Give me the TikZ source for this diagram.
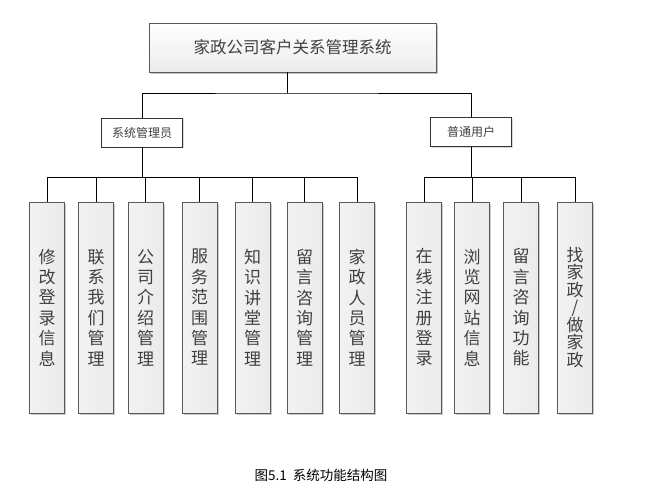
\documentclass[tikz,border=0pt]{standalone}
\usepackage{fontspec}
\newfontfamily\cjk{Noto Sans CJK SC}
\usetikzlibrary{shadows}
\tikzset{
  topbox/.style={draw=gray!70!black, minimum width=287, minimum height=49,
    top color=white, bottom color=gray!15, text=black!75,
    drop shadow={shadow xshift=1.5pt, shadow yshift=-1.5pt, fill=black!40, opacity=.6},
    font=\cjk\fontsize{16.5}{18}\selectfont},
  rolebox/.style={draw=black!80, fill=white, minimum width=81, minimum height=29,
    text=black!75, drop shadow={shadow xshift=1pt, shadow yshift=-1pt, fill=black!30, opacity=.5},
    font=\cjk\fontsize{12}{14}\selectfont},
  leafbox/.style={draw=gray!70!black, minimum width=35, minimum height=211, inner sep=0pt,
    left color=gray!10, middle color=white, right color=gray!16, text=black!75, align=center,
    drop shadow={shadow xshift=1.5pt, shadow yshift=-1.5pt, fill=black!35, opacity=.6},
    font=\cjk\fontsize{17}{20.4}\selectfont},
  link/.style={line width=0.8pt, black}
}
\begin{document}
\begin{tikzpicture}[x=1pt, y=-1pt]
  \useasboundingbox (0,0) rectangle (653,496);
  % top
  \node[topbox] (sys) at (292.5,47.5) {家政公司客户关系管理系统};
  \node[rolebox] (admin) at (142,132.5) {系统管理员};
  \node[rolebox] (user) at (471,132) {普通用户};
  % admin functions
  \node[leafbox] (a1) at (47,307.5) {修\\改\\登\\录\\信\\息};
  \node[leafbox] (a2) at (96,307.5) {联\\系\\我\\们\\管\\理};
  \node[leafbox] (a3) at (145.5,307.5) {公\\司\\介\\绍\\管\\理};
  \node[leafbox] (a4) at (199.5,307.5) {服\\务\\范\\围\\管\\理};
  \node[leafbox] (a5) at (252.5,307.5) {知\\识\\讲\\堂\\管\\理};
  \node[leafbox] (a6) at (304.5,307.5) {留\\言\\咨\\询\\管\\理};
  \node[leafbox] (a7) at (357,307.5) {家\\政\\人\\员\\管\\理};
  % user functions
  \node[leafbox] (u1) at (424,307.5) {在\\线\\注\\册\\登\\录};
  \node[leafbox] (u2) at (472,307.5) {浏\\览\\网\\站\\信\\息};
  \node[leafbox] (u3) at (521,307.5) {留\\言\\咨\\询\\功\\能};
  \node[leafbox, font=\cjk\fontsize{17}{17.5}\selectfont] (u4) at (575,307.5) {找\\家\\政\\/\\做\\家\\政};
  % links
  \coordinate (bus) at (287,93);
  \coordinate (abus) at (142,177);
  \coordinate (ubus) at (471,177);
  \draw[link] (sys.south -| bus) -- (bus);
  \draw[link] (admin.north) |- (bus) -| (user.north);
  \draw[link] (admin.south) -- (abus)
    (abus) -| (a1.north) (abus) -| (a2.north) (abus) -| (a3.north) (abus) -| (a4.north)
    (abus) -| (a5.north) (abus) -| (a6.north) (abus) -| (a7.north);
  \draw[link] (user.south) -- (ubus)
    (ubus) -| (u1.north) (ubus) -| (u2.north) (ubus) -| (u3.north) (ubus) -| (u4.north);
  \node[font=\cjk\fontsize{13.5}{15}\selectfont] (cap) at (321,475) {图5.1\ \ 系统功能结构图};
\end{tikzpicture}
\end{document}
